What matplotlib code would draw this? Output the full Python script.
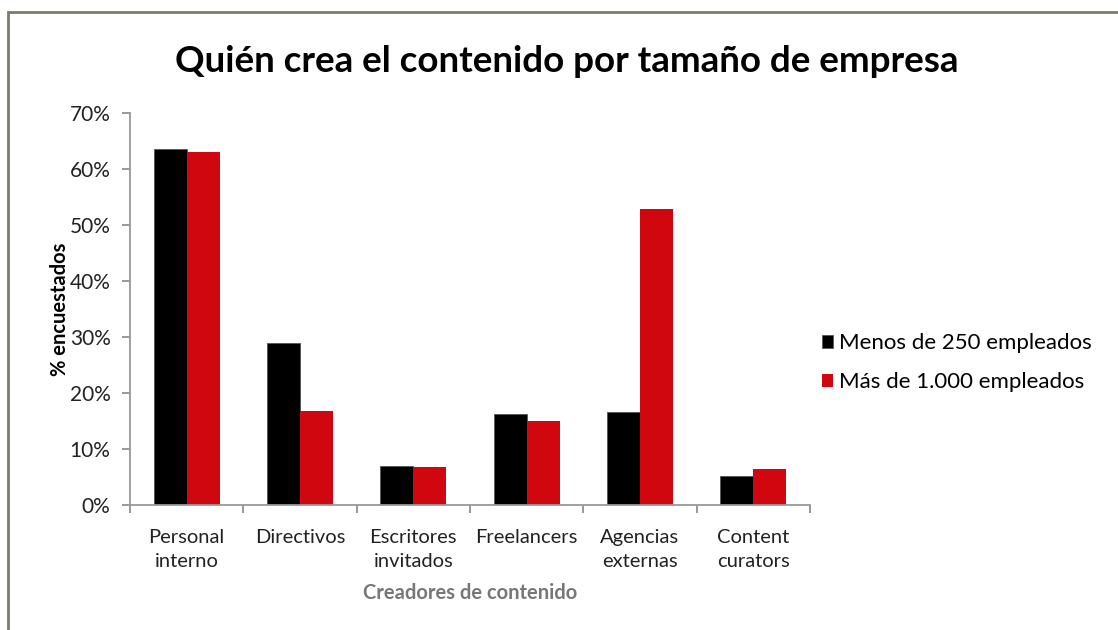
import matplotlib.pyplot as plt
import matplotlib.patches as patches
import numpy as np

plt.rcParams['font.family'] = ['Lato', 'DejaVu Sans']

categorias = ['Personal\ninterno', 'Directivos', 'Escritores\ninvitados',
              'Freelancers', 'Agencias\nexternas', 'Content\ncurators']
menos_250 = [63.6, 28.9, 7.0, 16.3, 16.6, 5.2]
mas_1000 = [63.0, 16.7, 6.8, 15.0, 52.9, 6.4]

fig = plt.figure(figsize=(11.18, 6.3), dpi=100)
ax = fig.add_axes([130 / 1118, 125 / 630, 680 / 1118, 392 / 630])

x = np.arange(len(categorias))
w = 0.29
ax.bar(x - w / 2, menos_250, w, color='black', edgecolor='#555555', linewidth=0.6,
       label='Menos de 250 empleados')
ax.bar(x + w / 2, mas_1000, w, color='#d0070f', label='Más de 1.000 empleados')

ax.set_xlim(-0.5, len(categorias) - 0.5)
ax.set_ylim(0, 70)
ax.set_yticks(np.arange(0, 71, 10))
ax.set_yticklabels([f'{v}%' for v in range(0, 71, 10)])
ax.set_xticks(x)
ax.set_xticklabels(categorias, linespacing=1.55)
ax.set_xticks(np.arange(-0.5, len(categorias)), minor=True)
ax.tick_params(axis='x', which='major', length=0, pad=17, labelsize=14.5, colors='#222222')
ax.tick_params(axis='x', which='minor', length=6, color='#888888', width=1.2)
ax.tick_params(axis='y', length=6, color='#888888', width=1.2, labelsize=15,
               labelcolor='#222222', pad=8)
for s in ['top', 'right']:
    ax.spines[s].set_visible(False)
for s in ['left', 'bottom']:
    ax.spines[s].set_color('#999999')
    ax.spines[s].set_linewidth(1.3)

ax.set_xlabel('Creadores de contenido', fontsize=14.5, fontweight='bold',
              color='#777777', labelpad=9)
ax.set_ylabel('% encuestados', fontsize=14.5, fontweight='bold', labelpad=0)

fig.text(567 / 1118, 1 - 62 / 630, 'Quién crea el contenido por tamaño de empresa',
         ha='center', va='center', fontsize=26.5, fontweight='bold')

leg = ax.legend(loc='center left', bbox_to_anchor=(1.018, 0.363), frameon=False,
                fontsize=16, handlelength=0.5, handleheight=0.5, handletextpad=0.25,
                labelspacing=0.85, borderaxespad=0, borderpad=0)

fig.patches.append(patches.Rectangle((8 / 1118, -0.1), 1.2, 0.1 + 1 - 12 / 630,
                                     transform=fig.transFigure, fill=False,
                                     edgecolor='#7b7b70', linewidth=2))

fig.savefig('out.png', dpi=100)
